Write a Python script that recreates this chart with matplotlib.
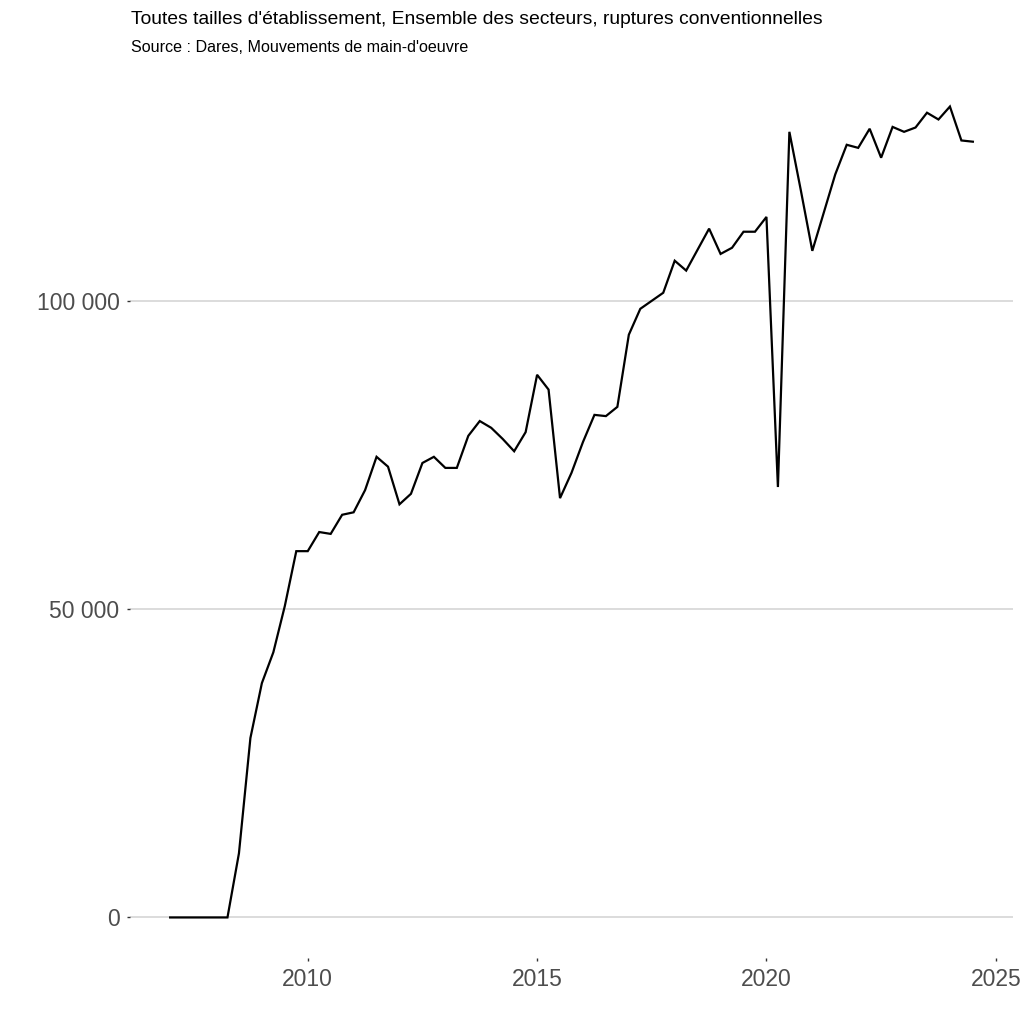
import numpy as np
import matplotlib
matplotlib.use("Agg")
import matplotlib.pyplot as plt
from matplotlib.ticker import FuncFormatter

# Quarterly data, 2007 Q1 .. 2024 Q3 (thousands)
start_year = 2007.0
values_k = [
    0, 0, 0, 0, 0, 0, 10.4, 29.1, 38.0, 43.0,
    50.5, 59.4, 59.4, 62.5, 62.2, 65.3, 65.7, 69.3, 74.7, 73.1,
    67.0, 68.7, 73.7, 74.7, 72.9, 72.9, 78.1, 80.5, 79.4, 77.6,
    75.6, 78.7, 88.0, 85.6, 68.0, 72.1, 77.1, 81.5, 81.3, 82.8,
    94.5, 98.7, 100.0, 101.3, 106.5, 104.9, 108.3, 111.7, 107.6, 108.6,
    111.2, 111.2, 113.6, 69.8, 127.4, 117.9, 108.1, 114.3, 120.5, 125.3,
    124.8, 127.9, 123.2, 128.2, 127.4, 128.1, 130.5, 129.4, 131.5, 126.0,
    125.8,
]
values = np.array(values_k) * 1000
dates = start_year + 0.25 * np.arange(len(values))

y_ticks = [0, 50000, 100000]
x_ticks = [2010, 2015, 2020, 2025]
title = "Toutes tailles d'établissement, Ensemble des secteurs, ruptures conventionnelles"
subtitle = "Source : Dares, Mouvements de main-d'oeuvre"

plt.rcParams['font.family'] = ['Liberation Sans', 'DejaVu Sans']

fig = plt.figure(figsize=(10.24, 10.24), dpi=100)
ax = fig.add_axes([130/1024, 1 - 958/1024, (1013 - 130)/1024, (958 - 66)/1024])

ax.plot(dates, values, color='black', linewidth=1.6, solid_joinstyle='miter')

span_x = dates[-1] - dates[0]
ax.set_xlim(dates[0] - 0.05 * span_x, dates[-1] + 0.05 * span_x)
span_y = values.max() - values.min()
ax.set_ylim(values.min() - 0.05 * span_y, values.max() + 0.05 * span_y)

ax.set_yticks(y_ticks)
ax.set_xticks(x_ticks)
ax.yaxis.set_major_formatter(FuncFormatter(lambda v, p: f"{int(v):,}".replace(",", " ")))
ax.grid(axis='y', color='#d9d9d9', linewidth=1.3)
ax.grid(axis='x', visible=False)
ax.set_axisbelow(True)
for s in ax.spines.values():
    s.set_visible(False)
ax.tick_params(axis='both', colors='#333333', labelcolor='#4d4d4d', labelsize=16.5,
               length=2.5, width=1.0, pad=5)

fig.text(131/1024, 1 - 19/1024, title, fontsize=13.9, color='black', va='center', ha='left')
fig.text(131/1024, 1 - 47/1024, subtitle, fontsize=11.6, color='black', va='center', ha='left')

fig.savefig("out.png", dpi=100, facecolor='white')
